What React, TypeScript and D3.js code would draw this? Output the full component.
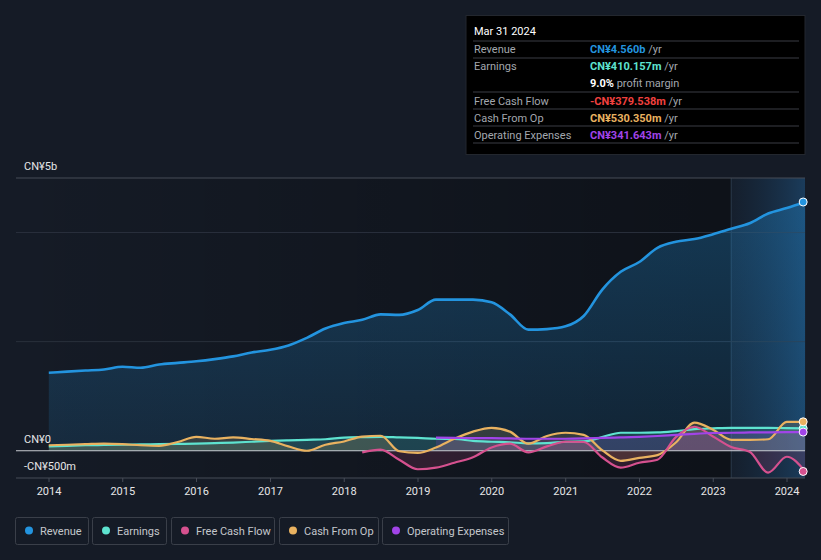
import * as d3 from 'd3';

const WIDTH = 821;
const HEIGHT = 560;

const PLOT = { left: 16, right: 805, top: 178, bottom: 478 };

// quarter ends, Dec 2013 .. Mar 2024
const quarters: Date[] = d3.range(42).map((i) => {
  const d = new Date(2013, 11 + i * 3 + 1, 1);
  d.setDate(0);
  return d;
});

// values in CN¥ millions
const revenue = [
  1430, 1450, 1470, 1490, 1540, 1520, 1580, 1610, 1640, 1680, 1730, 1800,
  1850, 1930, 2070, 2240, 2340, 2400, 2500, 2490, 2580, 2770, 2770, 2770,
  2720, 2500, 2220, 2230, 2280, 2470, 2950, 3280, 3460, 3720, 3830, 3880,
  3970, 4070, 4170, 4350, 4450, 4560,
];
const earnings = [
  80, 90, 100, 105, 110, 115, 120, 125, 130, 140, 150, 165,
  180, 190, 200, 210, 240, 250, 255, 245, 235, 220, 215, 180,
  165, 155, 135, 140, 165, 170, 250, 330, 330, 335, 360, 395,
  410, 420, 420, 420, 415, 410,
];
const freeCashFlow = [
  null, null, null, null, null, null, null, null, null, null, null, null,
  null, null, null, null, null, -30, 20, -165, -340, -310, -220, -120,
  60, 130, -30, 80, 165, 160, -120, -310, -220, -165, 250, 440,
  260, 70, -20, -400, -110, -380,
];
const cashFromOp = [
  100, 110, 120, 130, 120, 100, 90, 160, 255, 220, 245, 215,
  180, 80, 0, 110, 170, 260, 275, -10, -40, 60, 220, 350,
  420, 350, 130, 270, 330, 290, 10, -185, -130, -80, 150, 515,
  385, 200, 200, 210, 530, 530,
];
const operatingExpenses = [
  null, null, null, null, null, null, null, null, null, null, null, null,
  null, null, null, null, null, null, null, null, null, 240, 235, 230,
  230, 225, 220, 220, 220, 225, 235, 245, 255, 270, 290, 310,
  325, 330, 335, 338, 340, 342,
];

const yearTicks = d3.range(2014, 2025);
const gridValues = [2000, 4000];

const seriesNames = ['Revenue', 'Earnings', 'Free Cash Flow', 'Cash From Op', 'Operating Expenses'];
const seriesColors = ['#2394df', '#5ee3d0', '#d6518f', '#e9b260', '#a144e8'];

const tooltipRows = [
  { label: 'Revenue', value: 'CN¥4.560b', color: '#2394df' },
  { label: 'Earnings', value: 'CN¥410.157m', color: '#5ee3d0' },
  { label: '', value: '9.0%', color: '#ffffff', suffix: ' profit margin' },
  { label: 'Free Cash Flow', value: '-CN¥379.538m', color: '#f0403f' },
  { label: 'Cash From Op', value: 'CN¥530.350m', color: '#e9b260' },
  { label: 'Operating Expenses', value: 'CN¥341.643m', color: '#a144e8' },
];

const FONT = 'Roboto, "Noto Sans", sans-serif';

export default function App() {
  const x = d3.scaleTime()
    .domain([new Date(2014, 0, 1), new Date(2024, 0, 1)])
    .range([49, 787]);
  const y = d3.scaleLinear().domain([-500, 5000]).range([PLOT.bottom, PLOT.top]);

  const all = [revenue, earnings, freeCashFlow, cashFromOp, operatingExpenses];

  const line = d3.line<number | null>()
    .defined((d) => d !== null)
    .x((_, i) => x(quarters[i]))
    .y((d) => y(d as number))
    .curve(d3.curveMonotoneX);
  const area = d3.area<number | null>()
    .defined((d) => d !== null)
    .x((_, i) => x(quarters[i]))
    .y0(y(0))
    .y1((d) => y(d as number))
    .curve(d3.curveMonotoneX);

  const hlStart = x(new Date(2023, 2, 31));
  const last = quarters.length - 1;
  const drawOrder = [0, 1, 3, 2, 4];

  return (
    <div style={{ position: 'fixed', left: 0, top: 0 }}>
      <svg width={WIDTH} height={HEIGHT} style={{ display: 'block', background: '#151b26', fontFamily: FONT }}>
        <defs>
          <linearGradient id="plotShade" x1="0" x2="1" y1="0" y2="0">
            <stop offset="0" stopColor="#000" stopOpacity="0" />
            <stop offset="1" stopColor="#000" stopOpacity="0.35" />
          </linearGradient>
          <linearGradient id="hlShade" x1="0" x2="1" y1="0" y2="0">
            <stop offset="0" stopColor="#16304a" stopOpacity="0.2" />
            <stop offset="1" stopColor="#1d4a72" stopOpacity="0.7" />
          </linearGradient>
          <linearGradient id="revFill" x1="0" x2="0" y1="0" y2="1">
            <stop offset="0" stopColor="#2394df" stopOpacity="0.3" />
            <stop offset="1" stopColor="#2394df" stopOpacity="0.13" />
          </linearGradient>
        </defs>

        <rect x={PLOT.left} y={PLOT.top} width={hlStart - PLOT.left} height={PLOT.bottom - PLOT.top} fill="url(#plotShade)" />
        <rect x={hlStart} y={PLOT.top} width={PLOT.right - hlStart} height={PLOT.bottom - PLOT.top} fill="url(#hlShade)" />
        <line x1={hlStart} x2={hlStart} y1={PLOT.top} y2={PLOT.bottom} stroke="#2a3a4c" />

        {gridValues.map((v) => (
          <line key={v} x1={PLOT.left} x2={PLOT.right} y1={y(v)} y2={y(v)} stroke="#2a303c" strokeWidth={1} />
        ))}
        <line x1={PLOT.left} x2={PLOT.right} y1={y(5000)} y2={y(5000)} stroke="#474c57" strokeWidth={1} />

        <path d={area(revenue) || ''} fill="url(#revFill)" />
        {drawOrder.slice(1).map((k) => (
          <path key={`a${k}`} d={area(all[k]) || ''} fill={seriesColors[k]} fillOpacity={0.16} />
        ))}

        <line x1={PLOT.left} x2={PLOT.right} y1={y(0)} y2={y(0)} stroke="#c8ccd2" strokeWidth={1.2} />

        {drawOrder.map((k) => (
          <path key={`l${k}`} d={line(all[k]) || ''} fill="none" stroke={seriesColors[k]} strokeWidth={k === 0 ? 2.6 : 2.2} />
        ))}
        {drawOrder.map((k) => (
          <circle key={`c${k}`} cx={x(quarters[last]) - 2} cy={y(all[k][last] as number)} r={4} fill={seriesColors[k]} stroke="#fff" strokeWidth={1} />
        ))}

        <line x1={PLOT.left} x2={PLOT.right} y1={PLOT.bottom} y2={PLOT.bottom} stroke="#474c57" />
        {yearTicks.map((yr) => {
          const tx = x(new Date(yr, 0, 1));
          return (
            <g key={yr}>
              <line x1={tx} x2={tx} y1={PLOT.bottom} y2={PLOT.bottom + 4} stroke="#474c57" />
              <text x={tx} y={495} textAnchor="middle" fontSize={11} fill="#e6e6e6">{yr}</text>
            </g>
          );
        })}

        <text x={24} y={170} fontSize={11} fill="#e6e6e6">CN¥5b</text>
        <text x={24} y={443} fontSize={11} fill="#e6e6e6">CN¥0</text>
        <text x={24} y={470} fontSize={11} fill="#e6e6e6">-CN¥500m</text>

        <g>
          <rect x={466} y={15.5} width={339} height={139} fill="#000" stroke="#23272e" />
          <text x={474} y={35} fontSize={11} fill="#fff">Mar 31 2024</text>
          {[41, 58, 92, 109, 126, 143].map((ly) => (
            <line key={ly} x1={473} x2={799} y1={ly} y2={ly} stroke="#3a3d44" />
          ))}
          {tooltipRows.map((r, i) => {
            const ty = 53 + i * 17.2;
            return (
              <g key={i}>
                <text x={474} y={ty} fontSize={11} fill="#a3a7ae">{r.label}</text>
                <text x={590} y={ty} fontSize={11}>
                  <tspan fill={r.color} fontWeight="bold">{r.value}</tspan>
                  <tspan fill="#a3a7ae">{r.suffix || ' /yr'}</tspan>
                </text>
              </g>
            );
          })}
        </g>

        {(() => {
          const boxes = [[15, 88], [92, 166], [171, 274], [279, 378], [382, 508]];
          return seriesNames.map((n, i) => (
            <g key={n}>
              <rect x={boxes[i][0] + 0.5} y={517.5} width={boxes[i][1] - boxes[i][0]} height={27} rx={2} fill="none" stroke="#3a3f49" />
              <circle cx={boxes[i][0] + 14} cy={530.5} r={4} fill={seriesColors[i]} />
              <text x={boxes[i][0] + 25} y={534.5} fontSize={11} fill="#c4c7cc">{n}</text>
            </g>
          ));
        })()}
      </svg>
    </div>
  );
}
